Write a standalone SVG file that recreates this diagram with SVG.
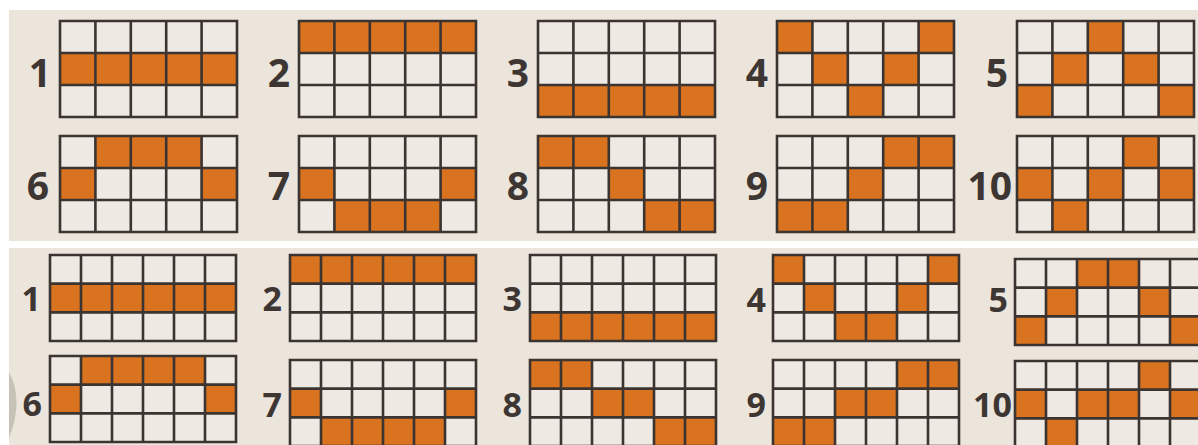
<svg xmlns="http://www.w3.org/2000/svg" xmlns:xlink="http://www.w3.org/1999/xlink" width="1198" height="445" viewBox="0 0 1198 445">
<style>
.bg{fill:#ebe5dc}
.cellbg{fill:#eee9e2}
.o{fill:#d9731f}
.gl{fill:none;stroke:#3b3431;stroke-width:2.6}
.lbl{font-family:"Open Sans","Liberation Sans",sans-serif;font-weight:bold;fill:#3d3633;text-anchor:end}
.t{font-size:39px}
.b{font-size:34px}
</style>
<defs>
<path id="g5" class="gl" d="M0,0H177V96H0Z M35.4,0V96 M70.8,0V96 M106.2,0V96 M141.6,0V96 M0,32H177 M0,64H177"/>
<path id="g6" class="gl" d="M0,0H186V86H0Z M31,0V86 M62,0V86 M93,0V86 M124,0V86 M155,0V86 M0,28.67H186 M0,57.33H186"/>
<rect id="c5" class="o" width="35.4" height="32"/>
<rect id="c6" class="o" width="31" height="28.67"/>
</defs>
<rect width="1198" height="445" fill="#ffffff"/>
<rect class="bg" x="9" y="10" width="1189" height="231"/>
<rect class="bg" x="9" y="248" width="1189" height="197"/>
<path d="M9,372 Q24,400 9,438 Z" fill="#c8c1b7"/>

<!-- top panel -->
<g id="t1"><rect class="cellbg" x="60" y="21" width="177" height="96"/>
<use href="#c5" x="60" y="53"/><use href="#c5" x="95.4" y="53"/><use href="#c5" x="130.8" y="53"/><use href="#c5" x="166.2" y="53"/><use href="#c5" x="201.6" y="53"/>
<use href="#g5" x="60" y="21"/><text class="lbl t" x="51" y="87">1</text></g>

<g id="t2"><rect class="cellbg" x="299" y="21" width="177" height="96"/>
<use href="#c5" x="299" y="21"/><use href="#c5" x="334.4" y="21"/><use href="#c5" x="369.8" y="21"/><use href="#c5" x="405.2" y="21"/><use href="#c5" x="440.6" y="21"/>
<use href="#g5" x="299" y="21"/><text class="lbl t" x="290" y="87">2</text></g>

<g id="t3"><rect class="cellbg" x="538" y="21" width="177" height="96"/>
<use href="#c5" x="538" y="85"/><use href="#c5" x="573.4" y="85"/><use href="#c5" x="608.8" y="85"/><use href="#c5" x="644.2" y="85"/><use href="#c5" x="679.6" y="85"/>
<use href="#g5" x="538" y="21"/><text class="lbl t" x="529" y="87">3</text></g>

<g id="t4"><rect class="cellbg" x="777" y="21" width="177" height="96"/>
<use href="#c5" x="777" y="21"/><use href="#c5" x="918.6" y="21"/><use href="#c5" x="812.4" y="53"/><use href="#c5" x="883.2" y="53"/><use href="#c5" x="847.8" y="85"/>
<use href="#g5" x="777" y="21"/><text class="lbl t" x="768" y="87">4</text></g>

<g id="t5"><rect class="cellbg" x="1017" y="21" width="177" height="96"/>
<use href="#c5" x="1087.8" y="21"/><use href="#c5" x="1052.4" y="53"/><use href="#c5" x="1123.2" y="53"/><use href="#c5" x="1017" y="85"/><use href="#c5" x="1158.6" y="85"/>
<use href="#g5" x="1017" y="21"/><text class="lbl t" x="1008" y="87">5</text></g>

<g id="t6"><rect class="cellbg" x="60" y="136" width="177" height="96"/>
<use href="#c5" x="95.4" y="136"/><use href="#c5" x="130.8" y="136"/><use href="#c5" x="166.2" y="136"/><use href="#c5" x="60" y="168"/><use href="#c5" x="201.6" y="168"/>
<use href="#g5" x="60" y="136"/><text class="lbl t" x="49" y="200">6</text></g>

<g id="t7"><rect class="cellbg" x="299" y="136" width="177" height="96"/>
<use href="#c5" x="299" y="168"/><use href="#c5" x="440.6" y="168"/><use href="#c5" x="334.4" y="200"/><use href="#c5" x="369.8" y="200"/><use href="#c5" x="405.2" y="200"/>
<use href="#g5" x="299" y="136"/><text class="lbl t" x="290" y="200">7</text></g>

<g id="t8"><rect class="cellbg" x="538" y="136" width="177" height="96"/>
<use href="#c5" x="538" y="136"/><use href="#c5" x="573.4" y="136"/><use href="#c5" x="608.8" y="168"/><use href="#c5" x="644.2" y="200"/><use href="#c5" x="679.6" y="200"/>
<use href="#g5" x="538" y="136"/><text class="lbl t" x="529" y="200">8</text></g>

<g id="t9"><rect class="cellbg" x="777" y="136" width="177" height="96"/>
<use href="#c5" x="883.2" y="136"/><use href="#c5" x="918.6" y="136"/><use href="#c5" x="847.8" y="168"/><use href="#c5" x="777" y="200"/><use href="#c5" x="812.4" y="200"/>
<use href="#g5" x="777" y="136"/><text class="lbl t" x="768" y="200">9</text></g>

<g id="t10"><rect class="cellbg" x="1017" y="136" width="177" height="96"/>
<use href="#c5" x="1123.2" y="136"/><use href="#c5" x="1017" y="168"/><use href="#c5" x="1087.8" y="168"/><use href="#c5" x="1158.6" y="168"/><use href="#c5" x="1052.4" y="200"/>
<use href="#g5" x="1017" y="136"/><text class="lbl t" x="1012" y="200">10</text></g>

<!-- bottom panel -->
<g id="b1"><rect class="cellbg" x="50" y="255" width="186" height="86"/>
<use href="#c6" x="50" y="283.67"/><use href="#c6" x="81" y="283.67"/><use href="#c6" x="112" y="283.67"/><use href="#c6" x="143" y="283.67"/><use href="#c6" x="174" y="283.67"/><use href="#c6" x="205" y="283.67"/>
<use href="#g6" x="50" y="255"/><text class="lbl b" x="41" y="311">1</text></g>

<g id="b2"><rect class="cellbg" x="290" y="255" width="186" height="86"/>
<use href="#c6" x="290" y="255"/><use href="#c6" x="321" y="255"/><use href="#c6" x="352" y="255"/><use href="#c6" x="383" y="255"/><use href="#c6" x="414" y="255"/><use href="#c6" x="445" y="255"/>
<use href="#g6" x="290" y="255"/><text class="lbl b" x="282" y="311">2</text></g>

<g id="b3"><rect class="cellbg" x="530" y="255" width="186" height="86"/>
<use href="#c6" x="530" y="312.33"/><use href="#c6" x="561" y="312.33"/><use href="#c6" x="592" y="312.33"/><use href="#c6" x="623" y="312.33"/><use href="#c6" x="654" y="312.33"/><use href="#c6" x="685" y="312.33"/>
<use href="#g6" x="530" y="255"/><text class="lbl b" x="522" y="311">3</text></g>

<g id="b4"><rect class="cellbg" x="773" y="255" width="186" height="86"/>
<use href="#c6" x="773" y="255"/><use href="#c6" x="928" y="255"/><use href="#c6" x="804" y="283.67"/><use href="#c6" x="897" y="283.67"/><use href="#c6" x="835" y="312.33"/><use href="#c6" x="866" y="312.33"/>
<use href="#g6" x="773" y="255"/><text class="lbl b" x="766" y="312">4</text></g>

<g id="b5"><rect class="cellbg" x="1015" y="259" width="186" height="86"/>
<use href="#c6" x="1077" y="259"/><use href="#c6" x="1108" y="259"/><use href="#c6" x="1046" y="287.67"/><use href="#c6" x="1139" y="287.67"/><use href="#c6" x="1015" y="316.33"/><use href="#c6" x="1170" y="316.33"/>
<use href="#g6" x="1015" y="259"/><text class="lbl b" x="1008" y="312">5</text></g>

<g id="b6"><rect class="cellbg" x="50" y="356" width="186" height="86"/>
<use href="#c6" x="81" y="356"/><use href="#c6" x="112" y="356"/><use href="#c6" x="143" y="356"/><use href="#c6" x="174" y="356"/><use href="#c6" x="50" y="384.67"/><use href="#c6" x="205" y="384.67"/>
<use href="#g6" x="50" y="356"/><text class="lbl b" x="42" y="416">6</text></g>

<g id="b7"><rect class="cellbg" x="290" y="360" width="186" height="86"/>
<use href="#c6" x="290" y="388.67"/><use href="#c6" x="445" y="388.67"/><use href="#c6" x="321" y="417.33"/><use href="#c6" x="352" y="417.33"/><use href="#c6" x="383" y="417.33"/><use href="#c6" x="414" y="417.33"/>
<use href="#g6" x="290" y="360"/><text class="lbl b" x="282" y="417">7</text></g>

<g id="b8"><rect class="cellbg" x="530" y="360" width="186" height="86"/>
<use href="#c6" x="530" y="360"/><use href="#c6" x="561" y="360"/><use href="#c6" x="592" y="388.67"/><use href="#c6" x="623" y="388.67"/><use href="#c6" x="654" y="417.33"/><use href="#c6" x="685" y="417.33"/>
<use href="#g6" x="530" y="360"/><text class="lbl b" x="522" y="417">8</text></g>

<g id="b9"><rect class="cellbg" x="773" y="360" width="186" height="86"/>
<use href="#c6" x="897" y="360"/><use href="#c6" x="928" y="360"/><use href="#c6" x="835" y="388.67"/><use href="#c6" x="866" y="388.67"/><use href="#c6" x="773" y="417.33"/><use href="#c6" x="804" y="417.33"/>
<use href="#g6" x="773" y="360"/><text class="lbl b" x="766" y="417">9</text></g>

<g id="b10"><rect class="cellbg" x="1015" y="361" width="186" height="86"/>
<use href="#c6" x="1139" y="361"/><use href="#c6" x="1015" y="389.67"/><use href="#c6" x="1077" y="389.67"/><use href="#c6" x="1108" y="389.67"/><use href="#c6" x="1170" y="389.67"/><use href="#c6" x="1046" y="418.33"/>
<use href="#g6" x="1015" y="361"/><text class="lbl b" x="1012" y="417">10</text></g>

<g id="connectors"/>
</svg>
